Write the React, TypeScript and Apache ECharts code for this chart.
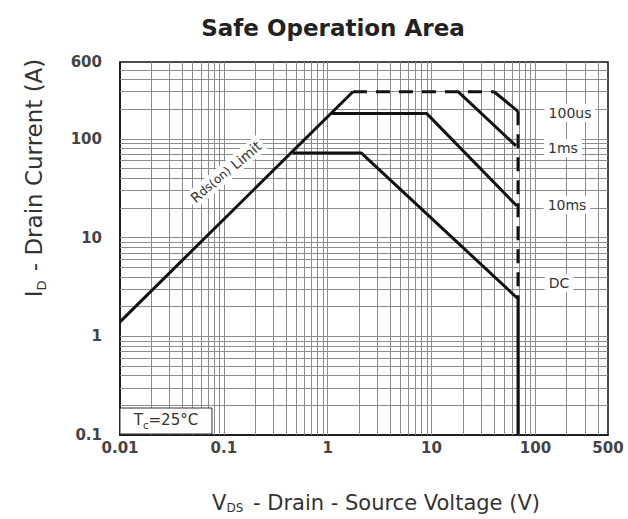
import React, { useEffect, useRef } from "react";
import * as echarts from "echarts";

// ---- data ----
const xTickLabels = [0.01, 0.1, 1, 10, 100, 500];
const yTickLabels = [0.1, 1, 10, 100, 600];
const xDecades = [0.01, 0.1, 1, 10, 100];
const yDecades = [0.1, 1, 10, 100];
const multipliers = [1, 2, 3, 4, 5, 6, 7, 8, 9];
const xMin = 0.01;
const xMax = 500;
const yMin = 0.1;
const yMax = 600;

const rdsLimit = [[0.01, 1.4], [1.75, 300]];
const pulseLimit = [[1.75, 300], [40, 300]];
const curve100us = [[40, 300], [68, 190]];
const vdsLimit = [[68, 190], [68, 2.4]];
const curve1ms = [[18, 300], [65, 85]];
const curve10ms = [[1.1, 180], [9, 180], [66, 21]];
const curveDC = [[0.46, 72], [2.1, 72], [68, 2.4], [68, 0.1]];

const FONT = '"DejaVu Sans", "Liberation Sans", sans-serif';

export default function App() {
  const ref = useRef<HTMLDivElement>(null);

  useEffect(() => {
    if (!ref.current) return;
    const chart = echarts.init(ref.current, undefined, { renderer: "svg" });

    const clean = (v: number) => +v.toPrecision(6);
    const xGrid = xDecades
      .flatMap((d) => multipliers.map((m) => clean(d * m)))
      .filter((v) => v > xMin && v < xMax);
    const yGrid = yDecades
      .flatMap((d) => multipliers.map((m) => clean(d * m)))
      .filter((v) => v > yMin && v < yMax);

    const lineSeries = (name: string, data: number[][], dashed = false) => ({
      name,
      type: "line",
      data,
      showSymbol: false,
      symbol: "none",
      z: 5,
      silent: true,
      lineStyle: {
        color: "#111",
        width: 3,
        type: dashed ? [14, 9] : "solid",
      },
    });

    const labelText = (text: string, x: number, y: number) => ({
      type: "text",
      x,
      y,
      z: 100,
      style: {
        text,
        fontSize: 14,
        fontFamily: FONT,
        fill: "#333",
        align: "center",
        verticalAlign: "middle",
        textAlign: "center",
        textVerticalAlign: "middle",
        backgroundColor: "#fff",
        padding: [2, 4],
      },
    });

    chart.setOption({
      animation: false,
      backgroundColor: "#fff",
      grid: {
        left: 120,
        right: 20,
        top: 62,
        bottom: 84,
        show: true,
        borderColor: "#111",
        borderWidth: 1.5,
        containLabel: false,
        outerBoundsMode: "none",
      },
      xAxis: {
        type: "log",
        logBase: 10,
        min: xMin,
        max: xMax,
        axisLine: { show: true, lineStyle: { color: "#111", width: 1.5 } },
        axisTick: { show: false },
        splitLine: { show: false },
        minorSplitLine: { show: false },
        axisLabel: {
          customValues: xTickLabels,
          formatter: (v: number) => String(clean(v)),
          fontSize: 15,
          fontWeight: "bold",
          fontFamily: FONT,
          color: "#444",
          margin: 5,
        },
      },
      yAxis: {
        type: "log",
        logBase: 10,
        min: yMin,
        max: yMax,
        axisLine: { show: true, lineStyle: { color: "#111", width: 1.5 } },
        axisTick: { show: false },
        splitLine: { show: false },
        minorSplitLine: { show: false },
        axisLabel: {
          customValues: yTickLabels,
          formatter: (v: number) => String(clean(v)),
          fontSize: 15,
          fontWeight: "bold",
          fontFamily: FONT,
          color: "#444",
          margin: 18,
        },
      },
      series: [
        {
          name: "grid",
          type: "line",
          data: [],
          z: 1,
          silent: true,
          markLine: {
            silent: true,
            symbol: ["none", "none"],
            animation: false,
            label: { show: false },
            lineStyle: { color: "#8c8c8c", width: 1, type: "solid" },
            emphasis: { disabled: true },
            data: [
              ...xGrid.map((v) => ({ xAxis: v })),
              ...yGrid.map((v) => ({ yAxis: v })),
            ],
          },
        },
        lineSeries("RDS(on) Limit", rdsLimit),
        lineSeries("Pulse limit", pulseLimit, true),
        lineSeries("100us", curve100us),
        lineSeries("VDS limit", vdsLimit, true),
        lineSeries("1ms", curve1ms),
        lineSeries("10ms", curve10ms),
        lineSeries("DC", curveDC),
      ],
      graphic: [
        {
          type: "text",
          x: 333,
          y: 28,
          z: 100,
          style: {
            text: "Safe Operation Area",
            fontSize: 23,
            fontWeight: "bold",
            fontFamily: FONT,
            fill: "#222",
            align: "center",
            verticalAlign: "middle",
            textAlign: "center",
            textVerticalAlign: "middle",
          },
        },
        {
          type: "text",
          x: 34,
          y: 178,
          rotation: Math.PI / 2,
          z: 100,
          style: {
            text: "{a|I}{s|D}{a| - Drain Current (A)}",
            align: "center",
            verticalAlign: "middle",
            textAlign: "center",
            textVerticalAlign: "middle",
            fill: "#333",
            rich: {
              a: { fontSize: 23, fontFamily: FONT, fill: "#333", lineHeight: 28, verticalAlign: "middle" },
              s: { fontSize: 13, fontFamily: FONT, fill: "#333", lineHeight: 28, verticalAlign: "bottom", padding: [0, 2, 0, 0] },
            },
          },
        },
        {
          type: "text",
          x: 376,
          y: 503,
          z: 100,
          style: {
            text: "{a|V}{s|DS}{a| - Drain - Source Voltage (V)}",
            align: "center",
            verticalAlign: "middle",
            textAlign: "center",
            textVerticalAlign: "middle",
            fill: "#333",
            rich: {
              a: { fontSize: 21, fontFamily: FONT, fill: "#333", lineHeight: 22, verticalAlign: "middle" },
              s: { fontSize: 12, fontFamily: FONT, fill: "#333", lineHeight: 22, verticalAlign: "bottom", padding: [0, 3, 0, 0] },
            },
          },
        },
        {
          type: "text",
          x: 226,
          y: 172,
          rotation: (40 * Math.PI) / 180,
          z: 100,
          style: {
            text: "{a|R}{s|ds(on)}{a| Limit}",
            align: "center",
            verticalAlign: "middle",
            textAlign: "center",
            textVerticalAlign: "middle",
            backgroundColor: "#fff",
            padding: [1, 3],
            rich: {
              a: { fontSize: 14, fontFamily: FONT, fill: "#333", lineHeight: 16 },
              s: { fontSize: 12, fontFamily: FONT, fill: "#333", lineHeight: 16 },
            },
          },
        },
        {
          type: "rect",
          z: 90,
          shape: { x: 120, y: 408, width: 92, height: 26 },
          style: { fill: "#fff", stroke: "#333", lineWidth: 1 },
        },
        {
          type: "text",
          x: 166,
          y: 420,
          z: 100,
          style: {
            text: "{a|T}{s|c}{a|=25°C}",
            align: "center",
            verticalAlign: "middle",
            textAlign: "center",
            textVerticalAlign: "middle",
            rich: {
              a: { fontSize: 15, fontFamily: FONT, fill: "#333", lineHeight: 20, verticalAlign: "middle" },
              s: { fontSize: 10, fontFamily: FONT, fill: "#333", lineHeight: 20, verticalAlign: "bottom" },
            },
          },
        },
        labelText("100us", 570, 113),
        labelText("1ms", 563, 148),
        labelText("10ms", 567, 205),
        labelText("DC", 559, 283),
      ],
    });

    return () => chart.dispose();
  }, []);

  return (
    <div
      ref={ref}
      style={{ position: "fixed", left: 0, top: 0, width: 628, height: 519 }}
    />
  );
}
